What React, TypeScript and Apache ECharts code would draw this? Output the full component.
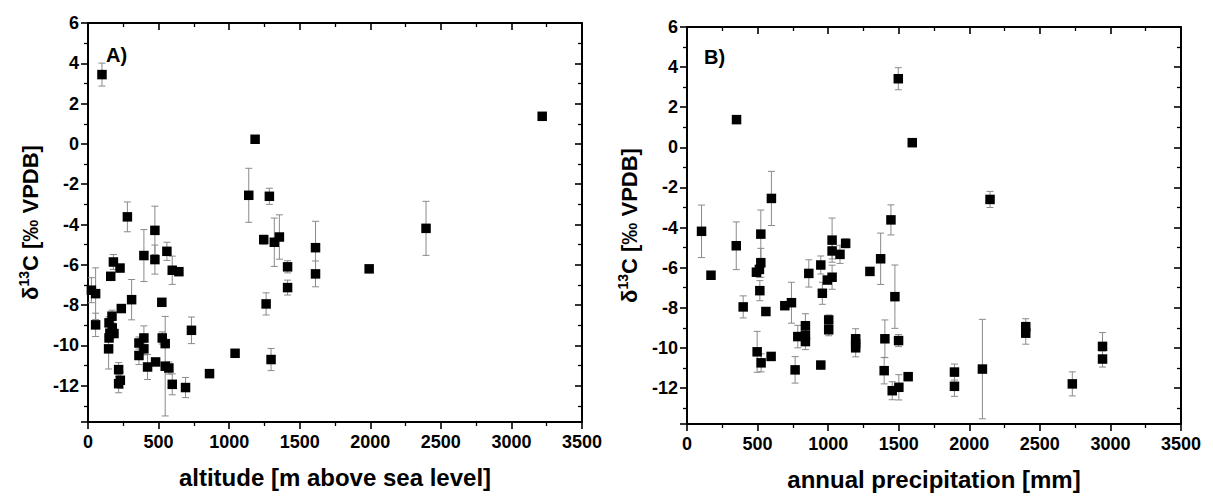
import React, { useEffect, useRef } from 'react';
import * as echarts from 'echarts';

// Panel A: altitude [m a.s.l.] vs δ13C, with standard deviation
const altitudeA = [99, 3218, 1184, 1139, 1285, 279, 474, 396, 474, 559, 180, 227, 161, 597, 644, 24, 54, 309, 523, 236, 54, 170, 149, 172, 155, 184, 149, 146, 733, 361, 396, 396, 361, 526, 547, 422, 479, 547, 573, 597, 691, 217, 229, 217, 861, 1042, 1245, 1320, 1356, 1414, 1414, 1612, 1612, 1992, 2395, 1262, 1297];
const d13cA = [3.44, 1.37, 0.23, -2.55, -2.6, -3.62, -4.29, -5.54, -5.74, -5.33, -5.86, -6.16, -6.57, -6.27, -6.34, -7.26, -7.43, -7.73, -7.86, -8.17, -8.98, -8.55, -8.88, -9.13, -9.41, -9.41, -9.63, -10.17, -9.25, -9.88, -9.63, -10.17, -10.5, -9.63, -9.91, -11.07, -10.82, -11.03, -11.12, -11.93, -12.09, -11.2, -11.73, -11.9, -11.4, -10.39, -4.75, -4.88, -4.62, -6.1, -7.13, -5.15, -6.45, -6.2, -4.19, -7.94, -10.7];
const sdA = [0.57, 0, 0, 1.34, 0.4, 0.74, 1.2, 1.29, 0.72, 0.45, 0.37, 0, 0, 0.7, 0, 0.62, 1.28, 1.0, 0, 0, 0.58, 0.3, 0.3, 0, 0, 0, 0, 1.0, 0.66, 0.3, 0.6, 0.3, 0.45, 0.3, 0, 0.62, 0, 2.47, 0.3, 0.52, 0.5, 0.35, 0.4, 0.45, 0, 0, 0.22, 1.2, 1.1, 0.3, 0.37, 1.31, 0.64, 0, 1.34, 0.55, 0.55];

// Panel B: annual precipitation [mm] vs δ13C, with standard deviation
const precipB = [1497, 351, 1596, 598, 2147, 1445, 103, 523, 349, 1028, 1124, 1028, 1084, 523, 513, 492, 516, 398, 559, 170, 497, 525, 596, 693, 740, 785, 839, 839, 839, 766, 863, 948, 959, 948, 994, 1028, 1004, 1004, 1372, 1296, 1473, 1195, 1195, 1195, 1402, 1499, 1397, 1454, 1501, 1567, 1895, 1895, 2093, 2400, 2400, 2944, 2944, 2730];
const d13cB = [3.42, 1.38, 0.23, -2.55, -2.6, -3.62, -4.19, -4.33, -4.91, -4.63, -4.79, -5.17, -5.34, -5.76, -6.09, -6.23, -7.15, -7.96, -8.19, -6.38, -10.2, -10.75, -10.43, -7.9, -7.75, -9.44, -8.9, -9.37, -9.69, -11.1, -6.29, -5.87, -7.28, -10.86, -6.62, -6.48, -8.61, -9.1, -5.56, -6.19, -7.45, -9.55, -9.8, -10.0, -9.55, -9.64, -11.14, -12.14, -11.97, -11.44, -11.21, -11.92, -11.06, -8.95, -9.27, -9.93, -10.56, -11.8];
const sdB = [0.55, 0, 0, 1.35, 0.4, 0.75, 1.31, 1.2, 1.19, 1.1, 0.22, 0.4, 0.45, 0.72, 0.4, 0, 0.5, 0.55, 0, 0, 1.02, 0.45, 0, 0, 1.02, 0.56, 0.6, 0.3, 0.4, 0.66, 0.68, 0.45, 0.55, 0, 0, 0.6, 0.25, 0.3, 1.28, 0, 1.58, 0.5, 0, 0.45, 0.94, 0.3, 0.66, 0.45, 0.63, 0, 0.4, 0.5, 2.48, 0.4, 0.55, 0.69, 0.4, 0.6];

const X_MIN = 0;
const X_MAX = 3500;
const X_STEP = 500;
const Y_MIN = -13.8;
const Y_MAX = 6;
const Y_STEP = 2;

const xTitleA = 'altitude [m above sea level]';
const xTitleB = 'annual precipitation [mm]';
const panelLabels = ['A)', 'B)'];

const FONT = '"Liberation Sans", Arial, sans-serif';

function errSeries(xs: number[], ys: number[], es: number[], xi: number, yi: number) {
  return {
    type: 'custom',
    xAxisIndex: xi,
    yAxisIndex: yi,
    z: 1,
    silent: true,
    data: xs.map((x, i) => [x, ys[i], es[i]]),
    encode: { x: 0, y: 1 },
    renderItem: (_params: any, api: any) => {
      const x = api.value(0);
      const y = api.value(1);
      const e = api.value(2);
      if (!e) return null;
      const t = api.coord([x, y + e]);
      const b = api.coord([x, y - e]);
      const w = 3.5;
      const st = { stroke: '#8a8a8a', lineWidth: 1 };
      return {
        type: 'group',
        children: [
          { type: 'line', shape: { x1: t[0], y1: t[1], x2: b[0], y2: b[1] }, style: st },
          { type: 'line', shape: { x1: t[0] - w, y1: t[1], x2: t[0] + w, y2: t[1] }, style: st },
          { type: 'line', shape: { x1: b[0] - w, y1: b[1], x2: b[0] + w, y2: b[1] }, style: st },
        ],
      };
    },
  };
}

function scatter(xs: number[], ys: number[], xi: number, yi: number) {
  return {
    type: 'scatter',
    xAxisIndex: xi,
    yAxisIndex: yi,
    z: 3,
    symbol: 'rect',
    symbolSize: 9.5,
    itemStyle: { color: '#000', opacity: 1 },
    data: xs.map((x, i) => [x, ys[i]]),
  };
}

const lineStyle = { color: '#000', width: 2 };
const tickStyle = { color: '#000', width: 1.6 };
const minorStyle = { color: '#000', width: 1.3 };
const labelFont = { color: '#000', fontFamily: FONT, fontWeight: 'bold', fontSize: 18 };

function xAxes(grid: number, title: string) {
  return [
    {
      type: 'value', gridIndex: grid, position: 'bottom', min: X_MIN, max: X_MAX, interval: X_STEP,
      axisLine: { show: true, onZero: false, lineStyle },
      axisTick: { show: true, inside: false, length: 7, lineStyle: tickStyle },
      minorTick: { show: true, splitNumber: 2, length: 4, lineStyle: minorStyle },
      splitLine: { show: false },
      axisLabel: { show: true, ...labelFont, margin: 11, formatter: (v: number) => String(v) },
      name: title, nameLocation: 'middle', nameGap: 43,
      nameTextStyle: { color: '#000', fontFamily: FONT, fontWeight: 'bold', fontSize: 24 },
    },
    {
      type: 'value', gridIndex: grid, position: 'top', min: X_MIN, max: X_MAX, interval: X_STEP,
      axisLine: { show: true, onZero: false, lineStyle },
      axisTick: { show: true, inside: true, length: 7, lineStyle: tickStyle },
      minorTick: { show: true, splitNumber: 2, length: 4, lineStyle: minorStyle },
      splitLine: { show: false },
      axisLabel: { show: false },
    },
  ];
}

function yAxes(grid: number) {
  const fmt = (v: number) => (Math.abs(v / Y_STEP - Math.round(v / Y_STEP)) < 1e-6 ? String(Math.round(v)) : '');
  return [
    {
      type: 'value', gridIndex: grid, position: 'left', min: Y_MIN, max: Y_MAX, splitNumber: 10,
      axisLine: { show: true, onZero: false, lineStyle },
      axisTick: { show: true, inside: false, length: 7, lineStyle: tickStyle },
      minorTick: { show: true, splitNumber: 2, length: 4, lineStyle: minorStyle },
      splitLine: { show: false },
      axisLabel: { show: true, ...labelFont, margin: 9, formatter: fmt },
      name: '{t|δ}{s|13}{t|C [‰ VPDB]}', nameLocation: 'middle', nameGap: 45, nameRotate: 90,
      nameTextStyle: {
        color: '#000', fontFamily: FONT, fontWeight: 'bold', fontSize: 22,
        rich: {
          t: { color: '#000', fontFamily: FONT, fontWeight: 'bold', fontSize: 22, lineHeight: 26 },
          s: { color: '#000', fontFamily: FONT, fontWeight: 'bold', fontSize: 14, lineHeight: 26, verticalAlign: 'top', padding: [0, 0, 8, 0] },
        },
      },
    },
    {
      type: 'value', gridIndex: grid, position: 'right', min: Y_MIN, max: Y_MAX, splitNumber: 10,
      axisLine: { show: true, onZero: false, lineStyle },
      axisTick: { show: true, inside: true, length: 7, lineStyle: tickStyle },
      minorTick: { show: true, splitNumber: 2, length: 4, lineStyle: minorStyle },
      splitLine: { show: false },
      axisLabel: { show: false },
    },
  ];
}

export default function App() {
  const ref = useRef<HTMLDivElement>(null);
  useEffect(() => {
    document.body.style.margin = '0';
    const chart = echarts.init(ref.current!, null, { renderer: 'svg' });
    chart.setOption({
      animation: false,
      backgroundColor: '#fff',
      grid: [
        { left: 88, top: 23, width: 494, height: 399 },
        { left: 687, top: 27, width: 494, height: 397 },
      ],
      xAxis: [...xAxes(0, xTitleA), ...xAxes(1, xTitleB)],
      yAxis: [...yAxes(0), ...yAxes(1)],
      graphic: [
        { type: 'text', left: 106, top: 45, style: { text: panelLabels[0], fill: '#000', font: `bold 20px ${FONT}` } },
        { type: 'text', left: 704, top: 47, style: { text: panelLabels[1], fill: '#000', font: `bold 20px ${FONT}` } },
      ],
      series: [
        errSeries(altitudeA, d13cA, sdA, 0, 0),
        scatter(altitudeA, d13cA, 0, 0),
        errSeries(precipB, d13cB, sdB, 2, 2),
        scatter(precipB, d13cB, 2, 2),
      ],
    });
    return () => chart.dispose();
  }, []);
  return <div ref={ref} style={{ width: 1213, height: 497 }} />;
}
